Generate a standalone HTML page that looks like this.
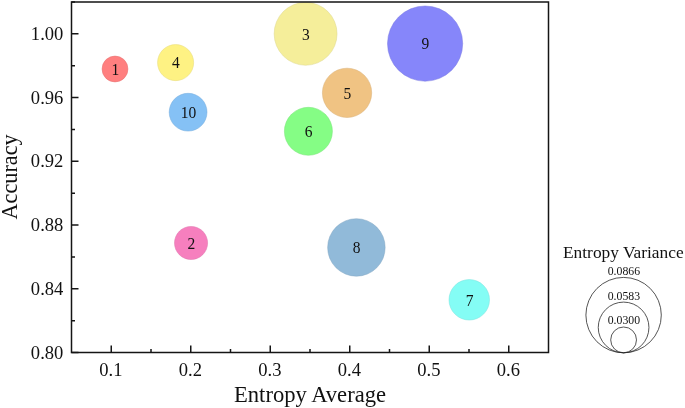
<!DOCTYPE html>
<html><head><meta charset="utf-8"><style>
html,body{margin:0;padding:0;background:#fff;width:685px;height:408px;overflow:hidden}
svg{display:block;filter:blur(0.3px)}
text{font-family:"Liberation Serif",serif;fill:#111}
.t{font-size:18.6px}
.ti{font-size:22.6px}
.n{font-size:15.5px}
.l{font-size:11.8px}
.lt{font-size:17.35px}
</style></head><body>
<svg width="685" height="408" viewBox="0 0 685 408">
<rect width="685" height="408" fill="#fff"/>
<circle cx="115.0" cy="69.0" r="12.95" fill="#FF7F7F" stroke="#e57272" stroke-width="0.5"/>
<circle cx="191.05" cy="243.0" r="16.55" fill="#F67FBE" stroke="#dd72ab" stroke-width="0.5"/>
<circle cx="305.6" cy="33.8" r="31.45" fill="#F5EE9A" stroke="#dcd68a" stroke-width="0.5"/>
<circle cx="175.6" cy="62.6" r="18.05" fill="#FEF283" stroke="#e4d975" stroke-width="0.5"/>
<circle cx="347.05" cy="92.85" r="24.65" fill="#F0C383" stroke="#d8af75" stroke-width="0.5"/>
<circle cx="308.4" cy="131.3" r="24.00" fill="#85FD85" stroke="#77e377" stroke-width="0.5"/>
<circle cx="469.25" cy="299.8" r="20.25" fill="#84FDF5" stroke="#76e3dc" stroke-width="0.5"/>
<circle cx="356.4" cy="247.45" r="28.75" fill="#91BAD9" stroke="#82a7c3" stroke-width="0.5"/>
<circle cx="425.1" cy="43.6" r="37.60" fill="#8686FA" stroke="#7878e1" stroke-width="0.5"/>
<circle cx="188.1" cy="112.2" r="18.90" fill="#85C1F5" stroke="#77addc" stroke-width="0.5"/>
<text transform="translate(115.30 69.20) scale(1 1.04)" class="n" text-anchor="middle" dominant-baseline="central">1</text>
<text transform="translate(191.35 243.20) scale(1 1.04)" class="n" text-anchor="middle" dominant-baseline="central">2</text>
<text transform="translate(305.90 34.00) scale(1 1.04)" class="n" text-anchor="middle" dominant-baseline="central">3</text>
<text transform="translate(175.90 62.80) scale(1 1.04)" class="n" text-anchor="middle" dominant-baseline="central">4</text>
<text transform="translate(347.35 93.05) scale(1 1.04)" class="n" text-anchor="middle" dominant-baseline="central">5</text>
<text transform="translate(308.70 131.50) scale(1 1.04)" class="n" text-anchor="middle" dominant-baseline="central">6</text>
<text transform="translate(469.55 300.00) scale(1 1.04)" class="n" text-anchor="middle" dominant-baseline="central">7</text>
<text transform="translate(356.70 247.65) scale(1 1.04)" class="n" text-anchor="middle" dominant-baseline="central">8</text>
<text transform="translate(425.40 43.80) scale(1 1.04)" class="n" text-anchor="middle" dominant-baseline="central">9</text>
<text transform="translate(188.40 112.40) scale(1 1.04)" class="n" text-anchor="middle" dominant-baseline="central">10</text>
<path d="M71.5 352.6V2.0H548.5V352.6Z" fill="none" stroke="#151515" stroke-width="1.5"/>
<path d="M111.25 352.6v-7M190.75 352.6v-7M270.25 352.6v-7M349.75 352.6v-7M429.25 352.6v-7M508.75 352.6v-7M151.00 352.6v-3.5M230.50 352.6v-3.5M310.00 352.6v-3.5M389.50 352.6v-3.5M469.00 352.6v-3.5M71.5 352.60h7M71.5 288.85h7M71.5 225.11h7M71.5 161.36h7M71.5 97.62h7M71.5 33.87h7M71.5 320.73h3.5M71.5 256.98h3.5M71.5 193.24h3.5M71.5 129.49h3.5M71.5 65.75h3.5M71.5 2.00h3.5" stroke="#151515" stroke-width="1.5" fill="none"/>
<text transform="translate(110.85 368.80) scale(1 1.065)" class="t" text-anchor="middle" dominant-baseline="central">0.1</text>
<text transform="translate(190.35 368.80) scale(1 1.065)" class="t" text-anchor="middle" dominant-baseline="central">0.2</text>
<text transform="translate(269.85 368.80) scale(1 1.065)" class="t" text-anchor="middle" dominant-baseline="central">0.3</text>
<text transform="translate(349.35 368.80) scale(1 1.065)" class="t" text-anchor="middle" dominant-baseline="central">0.4</text>
<text transform="translate(428.85 368.80) scale(1 1.065)" class="t" text-anchor="middle" dominant-baseline="central">0.5</text>
<text transform="translate(508.35 368.80) scale(1 1.065)" class="t" text-anchor="middle" dominant-baseline="central">0.6</text>
<text transform="translate(63.40 351.80) scale(1 1.065)" class="t" text-anchor="end" dominant-baseline="central">0.80</text>
<text transform="translate(63.40 288.05) scale(1 1.065)" class="t" text-anchor="end" dominant-baseline="central">0.84</text>
<text transform="translate(63.40 224.31) scale(1 1.065)" class="t" text-anchor="end" dominant-baseline="central">0.88</text>
<text transform="translate(63.40 160.56) scale(1 1.065)" class="t" text-anchor="end" dominant-baseline="central">0.92</text>
<text transform="translate(63.40 96.82) scale(1 1.065)" class="t" text-anchor="end" dominant-baseline="central">0.96</text>
<text transform="translate(63.40 33.07) scale(1 1.065)" class="t" text-anchor="end" dominant-baseline="central">1.00</text>
<text transform="translate(310.00 401.80) scale(1 1.05)" class="ti" text-anchor="middle">Entropy Average</text>
<text transform="translate(16.8 176.9) rotate(-90)" class="ti" style="font-size:22.2px" text-anchor="middle">Accuracy</text>
<text transform="translate(623.30 257.80) scale(1 1.02)" class="lt" text-anchor="middle">Entropy Variance</text>
<circle cx="623.6" cy="315.1" r="37.7" fill="none" stroke="#2a2a2a" stroke-width="0.8"/>
<text transform="translate(623.90 274.70) scale(1 1.1)" class="l" text-anchor="middle">0.0866</text>
<circle cx="623.6" cy="327.45" r="25.35" fill="none" stroke="#2a2a2a" stroke-width="0.8"/>
<text transform="translate(623.90 299.50) scale(1 1.1)" class="l" text-anchor="middle">0.0583</text>
<circle cx="623.6" cy="339.90000000000003" r="12.9" fill="none" stroke="#2a2a2a" stroke-width="0.8"/>
<text transform="translate(623.90 324.40) scale(1 1.1)" class="l" text-anchor="middle">0.0300</text>
</svg>
</body></html>
